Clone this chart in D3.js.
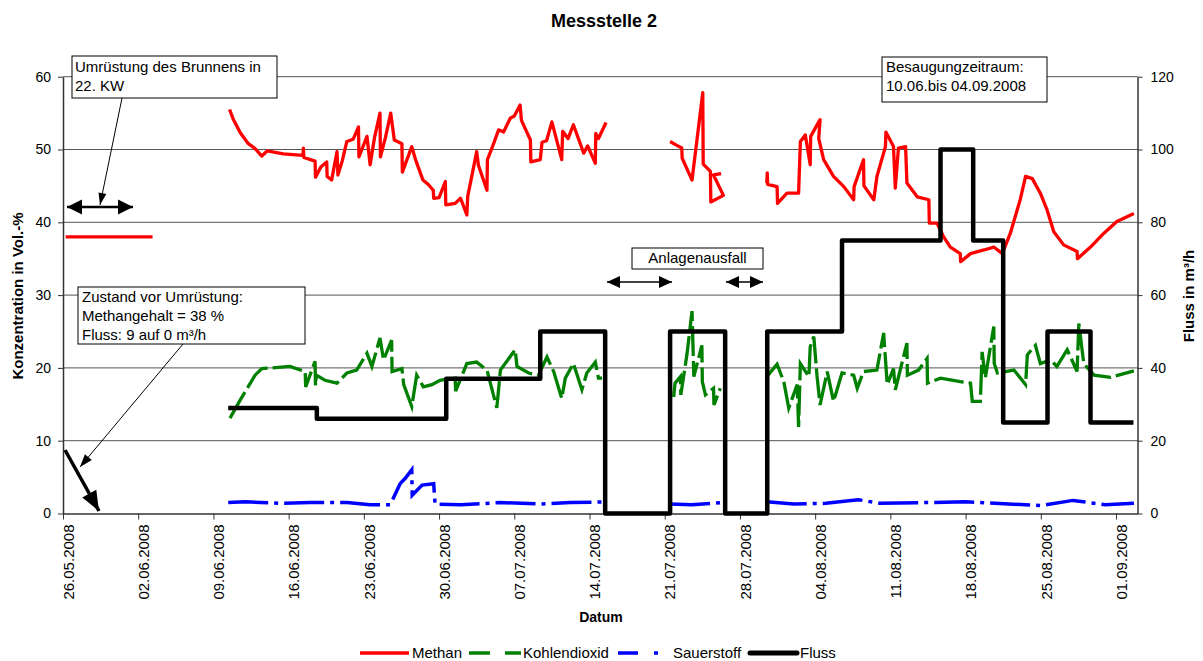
<!DOCTYPE html>
<html>
<head>
<meta charset="utf-8">
<script src="https://cdn.jsdelivr.net/npm/d3@7"></script>
<style>
  body { margin: 0; background: #fff; }
  svg { font-family: "Liberation Sans", Arial, sans-serif; }
</style>
</head>
<body>
<div id="chart"></div>
<script>
// ---- data ----
const dateTicks = ["26.05.2008", "02.06.2008", "09.06.2008", "16.06.2008", "23.06.2008", "30.06.2008",
  "07.07.2008", "14.07.2008", "21.07.2008", "28.07.2008", "04.08.2008", "11.08.2008",
  "18.08.2008", "25.08.2008", "01.09.2008"];
const leftTicks = [0, 10, 20, 30, 40, 50, 60];
const rightTicks = [0, 20, 40, 60, 80, 100, 120];

// Methan in Vol.-% (null = gap)
const methan = [
  ["26.05 06", 38], ["03.06 08", 38], null,
  ["10.06 12", 55.5], ["10.06 20", 54.2], ["11.06 12", 52.3], ["12.06 06", 50.8], ["12.06 20", 50.2], ["13.06 12", 49.1],
  ["14.06 00", 49.8], ["15.06 12", 49.4], ["17.06 08", 49.2], ["17.06 09", 50.2], ["17.06 10", 48.9], ["18.06 11", 48.4],
  ["18.06 12", 46.2], ["19.06 00", 47.6], ["19.06 13", 48.3], ["19.06 14", 46.3], ["20.06 00", 45.8], ["20.06 12", 49.7],
  ["20.06 14", 46.5], ["21.06 00", 48.5], ["21.06 10", 51.1], ["22.06 00", 51.4], ["22.06 12", 53.1], ["22.06 13", 49],
  ["23.06 07", 51.8], ["23.06 14", 47.9], ["24.06 00", 51.7], ["24.06 12", 55], ["24.06 13", 49], ["25.06 00", 51.6],
  ["25.06 12", 55], ["25.06 20", 51.3], ["26.06 13", 50.8], ["26.06 14", 46.9], ["27.06 11", 50.4], ["27.06 20", 48.5],
  ["28.06 12", 45.8], ["29.06 00", 45.2], ["29.06 11", 44.4], ["29.06 12", 43.3], ["30.06 00", 43.4], ["30.06 14", 45.6],
  ["30.06 15", 42.4], ["01.07 12", 42.6], ["02.07 00", 43.3], ["02.07 14", 41], ["02.07 16", 43.6], ["03.07 00", 46],
  ["03.07 12", 49.7], ["03.07 16", 47.8], ["04.07 11", 44.4], ["04.07 12", 48.6], ["05.07 00", 50.5], ["05.07 13", 52.7],
  ["06.07 00", 52.4], ["06.07 15", 54.3], ["07.07 00", 54.6], ["07.07 13", 56.1], ["07.07 16", 54], ["08.07 12", 51.3],
  ["08.07 13", 48.3], ["09.07 10", 48.6], ["09.07 14", 51], ["10.07 00", 51.2], ["10.07 12", 53.8], ["11.07 10", 48.6],
  ["11.07 12", 52.5], ["12.07 00", 51.5], ["12.07 12", 53.4], ["13.07 11", 49.5], ["13.07 20", 50.5], ["14.07 13", 48.1],
  ["14.07 14", 52.2], ["14.07 20", 51.5], ["15.07 13", 53.7], null,
  ["21.07 12", 51.1], ["22.07 02", 50.6], ["22.07 14", 50.2], ["22.07 15", 48.8], ["23.07 13", 45.8], ["24.07 13", 57.8],
  ["24.07 14", 48], ["25.07 06", 47], ["25.07 07", 42.8], ["26.07 11", 43.7], ["25.07 13", 46.5], ["26.07 06", 46.7], null,
  ["30.07 12", 45.4], ["30.07 13", 46.8], ["30.07 14", 45.2], ["31.07 11", 44.9], ["31.07 12", 42.6], ["01.08 09", 44],
  ["02.08 11", 44], ["02.08 15", 51.1], ["03.08 02", 52], ["03.08 13", 47.9], ["03.08 14", 51.8], ["04.08 11", 54.1],
  ["04.08 08", 51.5], ["04.08 19", 48.6], ["05.08 17", 46.3], ["06.08 16", 44.9], ["07.08 14", 43.1], ["07.08 15", 44.9],
  ["08.08 12", 48.6], ["08.08 13", 45], ["09.08 11", 43.1], ["09.08 18", 46.3], ["10.08 13", 50.4], ["10.08 14", 52.4],
  ["11.08 07", 50.4], ["11.08 11", 44.7], ["11.08 18", 50.2], ["12.08 10", 50.4], ["12.08 13", 45.4], ["13.08 12", 43.5],
  ["14.08 14", 43.1], ["14.08 15", 39.9], ["15.08 08", 39.9], ["15.08 23", 38], ["16.08 14", 36.6], ["17.08 12", 35.7],
  ["17.08 13", 34.6], ["18.08 11", 35.7], ["19.08 17", 36.2], ["20.08 15", 36.6], ["21.08 10", 35.7], ["22.08 04", 38.5],
  ["23.08 02", 43.1], ["23.08 14", 46.3], ["24.08 05", 46], ["24.08 23", 44], ["25.08 14", 41.7], ["26.08 05", 38.7],
  ["27.08 03", 36.9], ["28.08 09", 36], ["28.08 10", 35], ["29.08 15", 36.6], ["30.08 21", 38.5], ["01.09 02", 40.1],
  ["02.09 16", 41.2]
];

// Kohlendioxid in Vol.-%
const kohlendioxid = [
  ["10.06 13", 13.1], ["11.06 12", 15.6], ["12.06 21", 19], ["13.06 12", 19.9], ["16.06 03", 20.2], ["17.06 13", 19.5],
  ["17.06 14", 17.4], ["18.06 11", 20.9], ["18.06 12", 17.6], ["18.06 14", 19], ["19.06 09", 18.3], ["20.06 12", 17.9],
  ["21.06 10", 19.3], ["22.06 08", 19.7], ["23.06 07", 22], ["23.06 18", 20.2], ["24.06 12", 24.1], ["24.06 20", 21.1],
  ["25.06 14", 23.8], ["25.06 15", 19.5], ["26.06 13", 19.9], ["26.06 17", 17.7], ["27.06 11", 14.7], ["27.06 22", 19],
  ["28.06 13", 17.4], ["29.06 08", 17.7], ["30.06 02", 18.3], ["01.07 12", 18.6], ["01.07 13", 16.8], ["02.07 14", 20.6],
  ["03.07 12", 20.8], ["04.07 11", 19.7], ["05.07 09", 14.5], ["05.07 17", 19.7], ["07.07 02", 22.5], ["07.07 06", 20.2],
  ["08.07 08", 19.3], ["09.07 06", 19], ["10.07 01", 21.5], ["10.07 16", 19.5], ["11.07 10", 15.8], ["11.07 18", 18.6],
  ["12.07 12", 20.6], ["13.07 07", 17], ["13.07 18", 19.3], ["14.07 13", 20.8], ["14.07 20", 18.6], ["15.07 04", 18.6], null,
  ["21.07 20", 16], ["21.07 23", 17.9], ["22.07 11", 18.8], ["22.07 12", 16.3], ["23.07 02", 22], ["23.07 13", 27.8],
  ["23.07 17", 18.8], ["24.07 11", 23.1], ["24.07 12", 18.1], ["24.07 19", 16.3], ["25.07 13", 17.2], ["25.07 14", 14.9],
  ["26.07 04", 17.2], null,
  ["30.07 12", 18.8], ["31.07 11", 20.5], ["01.08 02", 18.1], ["01.08 13", 14.5], ["02.08 08", 17.7], ["02.08 11", 11.9],
  ["02.08 15", 20.6], ["03.08 10", 18.8], ["03.08 13", 22.9], ["03.08 21", 24.3], ["04.08 04", 19], ["04.08 11", 14.9],
  ["05.08 03", 19.5], ["05.08 17", 15.4], ["06.08 12", 19.3], ["07.08 14", 19], ["07.08 22", 17.2], ["08.08 12", 19.5],
  ["09.08 18", 19.7], ["10.08 09", 24.8], ["10.08 17", 17.7], ["11.08 07", 19.9], ["11.08 11", 17], ["12.08 13", 23.4],
  ["12.08 14", 19], ["13.08 15", 19.7], ["14.08 10", 21.3], ["14.08 11", 17.9], ["15.08 16", 18.6], ["17.08 12", 18.1],
  ["18.08 11", 17.9], ["18.08 15", 15.4], ["19.08 09", 15.4], ["19.08 13", 22.2], ["19.08 20", 18.6], ["20.08 15", 25.7],
  ["20.08 16", 20.6], ["20.08 23", 19.3], ["22.08 12", 19.7], ["23.08 14", 17.7], ["23.08 18", 21.8], ["24.08 12", 23.1],
  ["24.08 23", 20.6], ["25.08 22", 21.1], ["26.08 12", 20.2], ["27.08 11", 22.5], ["28.08 09", 19.5], ["28.08 13", 26.1],
  ["29.08 00", 20.6], ["29.08 23", 19], ["31.08 12", 18.7], ["02.09 16", 19.6]
];

// Sauerstoff in Vol.-%
const sauerstoff = [
  ["10.06 09", 1.5], ["11.06 23", 1.6], ["15.06 09", 1.4], ["18.06 00", 1.5], ["21.06 10", 1.5], ["23.06 14", 1.2],
  ["25.06 11", 1.2], ["26.06 09", 4.1], ["26.06 20", 4.8], ["27.06 11", 6], ["27.06 12", 2.5], ["28.06 10", 3.9],
  ["29.06 12", 4.1], ["29.06 15", 1.3], ["02.07 00", 1.2], ["05.07 17", 1.5], ["09.07 10", 1.3], ["12.07 05", 1.5],
  ["15.07 11", 1.6], null,
  ["21.07 12", 1.3], ["23.07 12", 1.2], ["26.07 08", 1.5], null,
  ["30.07 12", 1.6], ["02.08 00", 1.3], ["05.08 00", 1.4], ["08.08 00", 1.9], ["10.08 00", 1.4], ["14.08 00", 1.5],
  ["18.08 00", 1.6], ["22.08 00", 1.3], ["25.08 00", 1.1], ["28.08 00", 1.8], ["31.08 00", 1.2], ["02.09 16", 1.4]
];

// Fluss in m³/h (step changes)
const fluss = [
  ["10.06 09", 29], ["18.06 15", 26], ["30.06 16", 37], ["09.07 10", 50], ["15.07 11", 0], ["21.07 12", 50],
  ["26.07 15", 0], ["30.07 13", 50], ["06.08 12", 75], ["15.08 16", 100], ["18.08 17", 75], ["21.08 12", 25],
  ["25.08 15", 50], ["29.08 15", 25], ["02.09 15", 25]
];

// ---- layout ----
const W = 1203, H = 661;
const margin = { top: 76.7, right: 65.5, bottom: 147.5, left: 63 };
const width = W - margin.left - margin.right;
const height = H - margin.top - margin.bottom;

const parseTick = d3.timeParse("%d.%m.%Y");
const parsePt = s => d3.timeParse("%d.%m.%Y %H")(s.replace(" ", ".2008 "));
const toPts = arr => arr.map(d => d ? { date: parsePt(d[0]), v: d[1] } : null);

const svg = d3.select("#chart").append("svg")
  .attr("width", W).attr("height", H);

const g = svg.append("g").attr("transform", `translate(${margin.left},${margin.top})`);

const x = d3.scaleTime()
  .domain([parseTick("26.05.2008"), parseTick("03.09.2008")])
  .range([0, width]);
const yL = d3.scaleLinear().domain([0, 60]).range([height, 0]);
const yR = d3.scaleLinear().domain([0, 120]).range([height, 0]);

// gridlines
g.append("g").selectAll("line")
  .data(leftTicks.filter(d => d > 0))
  .enter().append("line")
  .attr("x1", 0).attr("x2", width)
  .attr("y1", d => yL(d)).attr("y2", d => yL(d))
  .attr("stroke", "#555").attr("stroke-width", 1);

// axes
const axisColor = "#333";
const leftAxis = g.append("g")
  .call(d3.axisLeft(yL).tickValues(leftTicks).tickSize(5).tickSizeOuter(0).tickPadding(7));
const rightAxis = g.append("g").attr("transform", `translate(${width},0)`)
  .call(d3.axisRight(yR).tickValues(rightTicks).tickSize(5).tickSizeOuter(0).tickPadding(8));
const bottomAxis = g.append("g").attr("transform", `translate(0,${height})`)
  .call(d3.axisBottom(x).tickValues(dateTicks.map(parseTick)).tickSize(6).tickSizeOuter(0)
    .tickFormat(d3.timeFormat("%d.%m.%Y")));

[leftAxis, rightAxis, bottomAxis].forEach(a => {
  a.select(".domain").attr("stroke", axisColor).attr("stroke-width", 1.5);
  a.selectAll(".tick line").attr("stroke", axisColor);
  a.selectAll("text").attr("fill", "#000").style("font-size", "14px")
    .style("font-family", "'Liberation Sans', Arial, sans-serif");
});
bottomAxis.selectAll("text")
  .style("font-size", "15px")
  .attr("transform", "rotate(-90)")
  .attr("text-anchor", "end")
  .attr("x", -11).attr("y", 5).attr("dy", "0.35em");

// series
const line = yScale => d3.line()
  .defined(d => d !== null)
  .x(d => x(d.date)).y(d => yScale(d.v));

g.append("path").datum(toPts(methan))
  .attr("fill", "none").attr("stroke", "#ff0000").attr("stroke-width", 3.3)
  .attr("stroke-linejoin", "round")
  .attr("d", line(yL));

g.append("path").datum(toPts(kohlendioxid))
  .attr("fill", "none").attr("stroke", "#008000").attr("stroke-width", 3.3)
  .attr("stroke-dasharray", "30,5")
  .attr("d", line(yL));

g.append("path").datum(toPts(sauerstoff))
  .attr("fill", "none").attr("stroke", "#0000ff").attr("stroke-width", 3.5)
  .attr("stroke-dasharray", "40,6,4,6")
  .attr("d", line(yL));

g.append("path").datum(toPts(fluss))
  .attr("fill", "none").attr("stroke", "#000").attr("stroke-width", 4.5)
  .attr("stroke-linejoin", "round")
  .attr("d", line(yR).curve(d3.curveStepAfter));

// titles
svg.append("text").attr("x", 604).attr("y", 27).attr("text-anchor", "middle")
  .style("font-size", "18px").style("font-weight", "bold").text("Messstelle 2");
svg.append("text").attr("transform", "translate(23,296) rotate(-90)").attr("text-anchor", "middle")
  .style("font-size", "15px").style("font-weight", "bold").text("Konzentration in Vol.-%");
svg.append("text").attr("transform", "translate(1194,296) rotate(-90)").attr("text-anchor", "middle")
  .style("font-size", "15px").style("font-weight", "bold").text("Fluss in m³/h");
svg.append("text").attr("x", 601).attr("y", 622).attr("text-anchor", "middle")
  .style("font-size", "14px").style("font-weight", "bold").text("Datum");

// annotations
const ann = svg.append("g");

function arrowHead(x1, y1, x2, y2, len, w) {
  const a = Math.atan2(y2 - y1, x2 - x1);
  const bx = x2 - len * Math.cos(a), by = y2 - len * Math.sin(a);
  const px = Math.sin(a) * w / 2, py = -Math.cos(a) * w / 2;
  ann.append("path")
    .attr("d", `M${x2},${y2}L${bx + px},${by + py}L${bx - px},${by - py}Z`)
    .attr("fill", "#000");
}
function arrow(x1, y1, x2, y2, sw, len, w, both) {
  ann.append("line").attr("x1", x1).attr("y1", y1).attr("x2", x2).attr("y2", y2)
    .attr("stroke", "#000").attr("stroke-width", sw);
  arrowHead(x1, y1, x2, y2, len, w);
  if (both) arrowHead(x2, y2, x1, y1, len, w);
}
function box(bx, by, bw, bh, lines, tx, ty, anchor) {
  ann.append("rect").attr("x", bx).attr("y", by).attr("width", bw).attr("height", bh)
    .attr("fill", "#fff").attr("stroke", "#000").attr("stroke-width", 1);
  lines.forEach((t, i) => {
    ann.append("text").attr("x", tx).attr("y", ty + i * 19)
      .attr("text-anchor", anchor || "start").style("font-size", "15px").text(t);
  });
}

box(72, 56, 205, 42, ["Umrüstung des Brunnens in", "22. KW"], 75, 72);
arrow(122, 98, 100, 205, 1, 12, 8, false);
arrow(67, 207, 133, 207, 2.5, 15, 15, true);

box(78, 287, 227, 57, ["Zustand vor Umrüstung:", "Methangehalt = 38 %", "Fluss: 9 auf 0 m³/h"], 82, 302);
arrow(183, 344, 80, 467, 1, 13, 9, false);
arrow(65, 450, 99, 511, 3.5, 20, 16, false);

box(632, 248, 131, 21, ["Anlagenausfall"], 697.5, 263, "middle");
arrow(607, 282, 672, 282, 1.5, 13, 12, true);
arrow(726, 282, 763, 282, 1.5, 13, 12, true);

box(882, 57, 165, 45, ["Besaugungzeitraum:", "10.06.bis 04.09.2008"], 886, 72);

// legend
const lg = svg.append("g");
const ly = 653;
const lt = 658;
lg.append("line").attr("x1", 360).attr("x2", 409).attr("y1", ly).attr("y2", ly)
  .attr("stroke", "#ff0000").attr("stroke-width", 3.5);
lg.append("text").attr("x", 412).attr("y", lt).style("font-size", "15px").text("Methan");
lg.append("line").attr("x1", 469).attr("x2", 521).attr("y1", ly).attr("y2", ly)
  .attr("stroke", "#008000").attr("stroke-width", 3.5).attr("stroke-dasharray", "21,15");
lg.append("text").attr("x", 523).attr("y", lt).style("font-size", "15px").text("Kohlendioxid");
lg.append("line").attr("x1", 618).attr("x2", 658).attr("y1", ly).attr("y2", ly)
  .attr("stroke", "#0000ff").attr("stroke-width", 3.5).attr("stroke-dasharray", "20,16,4,16");
lg.append("text").attr("x", 673).attr("y", lt).style("font-size", "15px").text("Sauerstoff");
lg.append("line").attr("x1", 750).attr("x2", 797).attr("y1", ly).attr("y2", ly)
  .attr("stroke", "#000").attr("stroke-width", 5).attr("stroke-linecap", "round");
lg.append("text").attr("x", 800).attr("y", lt).style("font-size", "15px").text("Fluss");
</script>
</body>
</html>
